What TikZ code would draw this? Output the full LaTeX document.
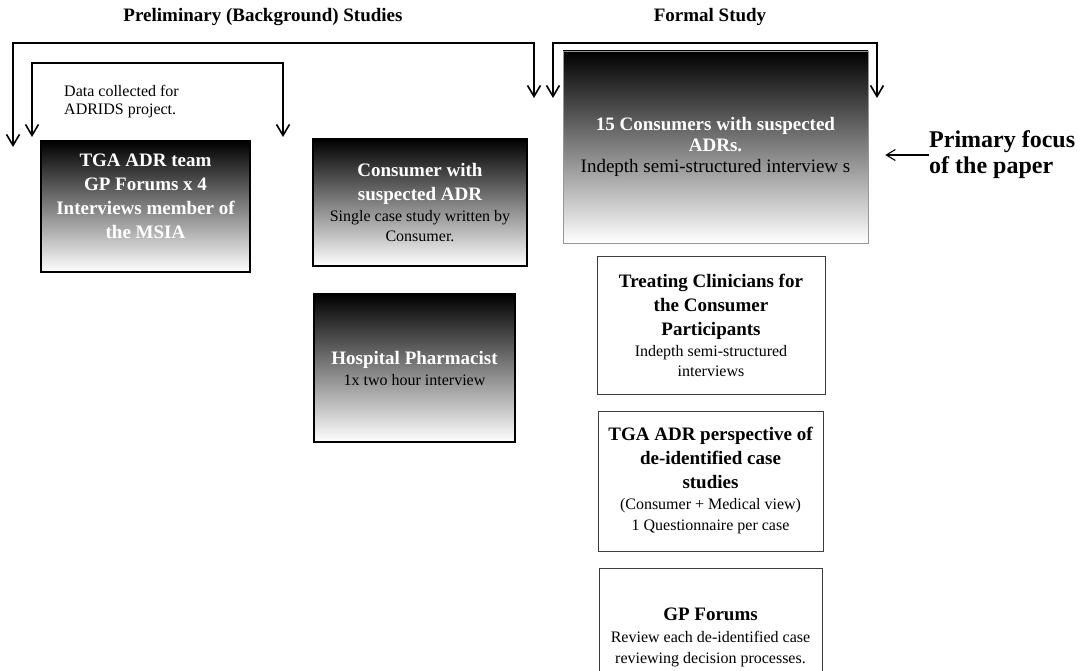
\documentclass[tikz,border=0pt]{standalone}
\usepackage{fontspec}
\setmainfont{Liberation Serif}
\usetikzlibrary{arrows.meta, positioning}
\definecolor{boxline}{RGB}{60, 60, 60}
\definecolor{fadegray}{RGB}{150, 150, 150}
\newcommand{\bodytext}[1]{{\fontsize{16}{19}\selectfont\mdseries\color{black}#1}}

\begin{document}
\begin{tikzpicture}[
    x=1pt, y=-1pt,
    darkbox/.style={draw=black, line width=1.4pt, top color=black, bottom color=white, text=white, align=center, inner sep=0pt, font=\fontsize{19}{24}\selectfont\bfseries},
    plainbox/.style={draw=boxline, line width=1pt, fill=white, align=center, inner sep=0pt, font=\fontsize{19}{24}\selectfont\bfseries},
    heading/.style={font=\fontsize{19}{23}\selectfont\bfseries},
    bracket/.style={{Straight Barb[length=11pt,width=13pt]}-{Straight Barb[length=11pt,width=13pt]}, line width=1.6pt}
]
    \useasboundingbox (0,0) rectangle (1080,671);
    \clip (0,0) rectangle (1080,671);
    \fill[white] (0,0) rectangle (1080,671);

    % Column headings
    \node[heading] (prelim) at (263,17) {Preliminary (Background) Studies};
    \node[heading] (formal) at (710,17) {Formal Study};

    % Preliminary studies
    \node[darkbox, text depth=21pt, minimum width=209pt, minimum height=131pt] (tgateam) at (145.5,206.5) {TGA ADR team\\GP Forums x 4\\Interviews member of\\the MSIA};
    \node[darkbox, minimum width=214pt, minimum height=127pt] (consumer) at (420,202.5) {Consumer with\\suspected ADR\\[-3pt]\bodytext{Single case study written by}\\[-4pt]\bodytext{Consumer.}};
    \node[darkbox, minimum width=201pt, minimum height=148pt] (pharmacist) at (414.5,368) {Hospital Pharmacist\\[-3pt]\bodytext{1x two hour interview}};
    \node[font=\fontsize{16}{18}\selectfont, align=left, anchor=west, inner sep=0pt] (adrids) at (64,102) {Data collected for\\ADRIDS project.};

    % Formal study
    \node[darkbox, draw=fadegray, line width=0.6pt, font=\fontsize{19}{21}\selectfont\bfseries, minimum width=305pt, minimum height=192pt] (consumers) at (715.5,147) {15 Consumers with suspected\\ADRs.\\{\mdseries\color{black}Indepth semi-structured interview s}};
    \node[plainbox, minimum width=228pt, minimum height=137pt] (clinicians) at (711,325.5) {Treating Clinicians for\\the Consumer\\Participants\\[-3pt]\bodytext{Indepth semi-structured}\\[-4pt]\bodytext{interviews}};
    \node[plainbox, minimum width=225pt, minimum height=140pt] (tgaview) at (710.5,481) {TGA ADR perspective of\\de-identified case\\studies\\[-3pt]\bodytext{(Consumer + Medical view)}\\[-3pt]\bodytext{1 Questionnaire per case}};
    \node[plainbox, minimum width=223pt, minimum height=138pt] (gpforums) at (710.5,637) {GP Forums\\[-2pt]\bodytext{Review each de-identified case}\\[-3pt]\bodytext{reviewing decision processes.}};

    % Note on the right
    \node[font=\fontsize{24}{26}\selectfont\bfseries, align=left, anchor=west, inner sep=0pt] (focus) at (929,155) {Primary focus\\of the paper};

    % Bracket ends
    \coordinate (outerL) at (13,147);
    \coordinate (outerR) at (534,98);
    \coordinate (innerL) at (32,137);
    \coordinate (innerR) at (283,137);
    \coordinate (formalL) at (553,98);
    \coordinate (formalR) at (877,98);

    % Brackets
    \draw[bracket] (outerL) -- ++(0,-104) -| (outerR);
    \draw[bracket] (innerL) -- ++(0,-74) -| (innerR);
    \draw[bracket] (formalL) -- ++(0,-55) -| (formalR);

    % Pointer to the main box
    \draw[-{Straight Barb[length=9pt,width=11pt]}, line width=1.1pt, shorten >=17pt] (focus.west) -- (focus.west -| consumers.east);

\end{tikzpicture}
\end{document}
